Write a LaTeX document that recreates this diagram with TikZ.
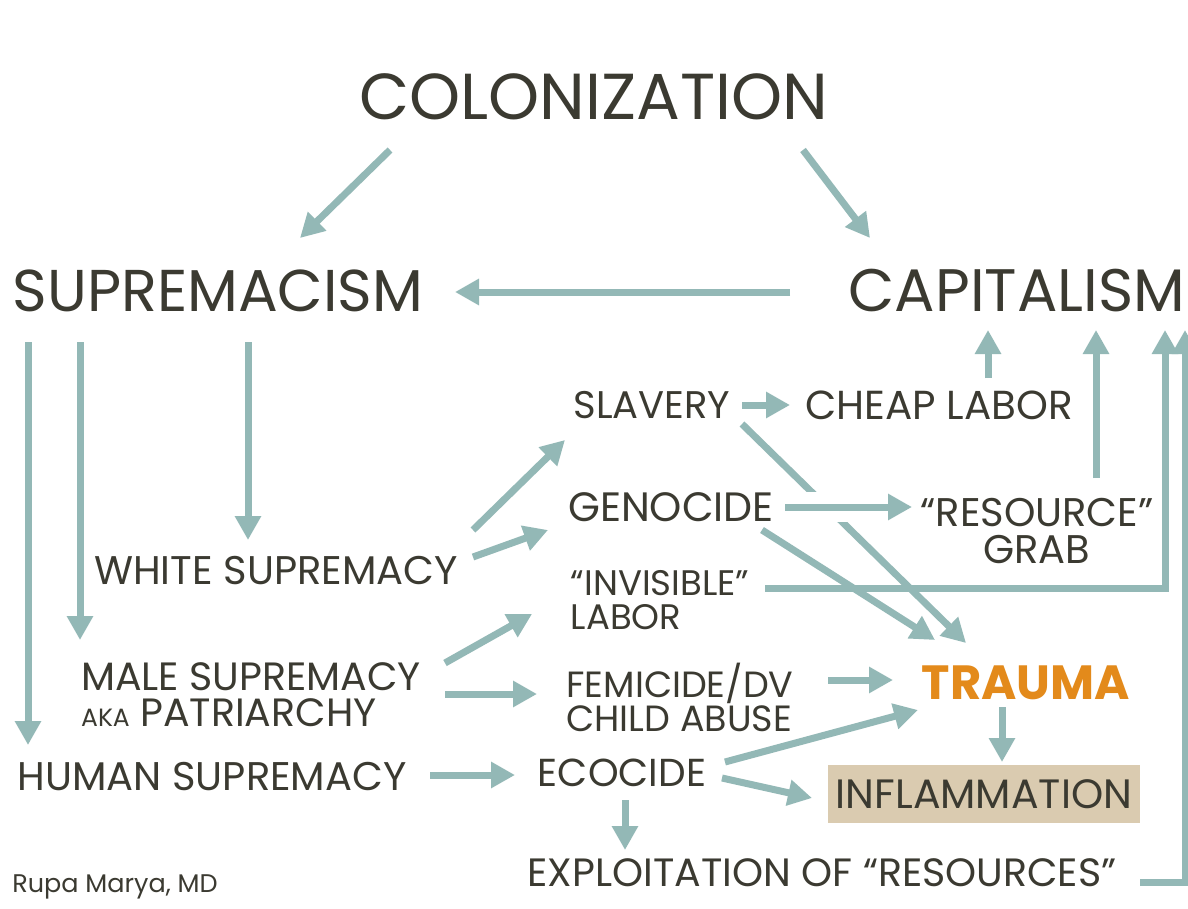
\documentclass[tikz,border=0pt]{standalone}
\usepackage{fontspec}
\setmainfont{Poppins}
\usetikzlibrary{arrows.meta,calc}
\definecolor{arrowc}{HTML}{93B8B6}
\definecolor{textc}{HTML}{3B3A31}
\definecolor{orangec}{HTML}{E38A1B}
\definecolor{tanc}{HTML}{DACBB0}
\tikzset{
  arr/.style={draw=arrowc,line width=7pt,-{Triangle[length=24pt,width=25pt]}},
  lbl/.style={text=textc,inner sep=0pt,font=\fontsize{40}{40}\selectfont},
  big/.style={text=textc,inner sep=0pt,font=\fontsize{59}{60}\selectfont},
}
\begin{document}
\begin{tikzpicture}[x=1pt,y=-1pt]
\useasboundingbox[fill=white] (0,0) rectangle (1188,909);
\node[big,font=\fontsize{65}{66}\selectfont] (colon) at (594,97) {COLONIZATION};
\node[big] (supr) at (218,291) {SUPREMACISM};
\node[big,font=\fontsize{60}{60}\selectfont] (cap) at (1017,291) {CAPITALISM};
\node[lbl] (white) at (276,571) {WHITE SUPREMACY};
\node[lbl,font=\fontsize{38.5}{40}\selectfont] (slav) at (652,405) {SLAVERY};
\node[lbl,font=\fontsize{40.5}{40}\selectfont] (cheap) at (939,405) {CHEAP LABOR};
\node[lbl,font=\fontsize{41}{40}\selectfont] (geno) at (671,507) {GENOCIDE};
\node[lbl,align=center,font=\fontsize{40}{37}\selectfont] (res) at (1037,531) {“RESOURCE”\\GRAB};
\node[lbl,align=left,font=\fontsize{35.5}{34}\selectfont] (invis) at (660,600) {“INVISIBLE”\\LABOR};
\node[lbl,align=left,font=\fontsize{36.5}{34}\selectfont] (fem) at (680,697) {FEMICIDE/DV\\CHILD ABUSE};
\node[lbl,align=left,font=\fontsize{39.5}{36}\selectfont] (male) at (251,695) {MALE SUPREMACY\\{\fontsize{25}{24}\selectfont AKA} PATRIARCHY};
\node[lbl] (human) at (212,777) {HUMAN SUPREMACY};
\node[lbl,font=\fontsize{39}{40}\selectfont] (eco) at (622,773) {ECOCIDE};
\node[inner sep=0pt,text=orangec,font=\fontsize{48}{50}\selectfont\bfseries] (trauma) at (1026,683) {TRAUMA};
\node[lbl,fill=tanc,minimum width=312pt,minimum height=58pt,font=\fontsize{41}{40}\selectfont] (infl) at (984,794) {INFLAMMATION};
\node[lbl,font=\fontsize{39.5}{38}\selectfont] (expl) at (822,873) {EXPLOITATION OF “RESOURCES”};
\node[text=textc,inner sep=0pt,font=\fontsize{25.5}{26}\selectfont] (rupa) at (115,887) {Rupa Marya, MD};
% arrows
\draw[arr] ($(colon)+(-204,53)$) -- ($(supr)+(82,-53)$);
\draw[arr] ($(colon)+(209,53)$) -- ($(cap)+(-147,-53)$);
\draw[arr] ($(cap)+(-227,1)$) -- ($(supr)+(237,1)$);
\draw[arr] ($(supr)+(-190,51)$) -- ($(human)+(-184,-32)$);
\draw[arr] ($(supr)+(-138,51)$) -- ($(male)+(-171,-55)$);
\draw[arr] ($(supr)+(30,51)$) -- ($(white)+(-28,-31)$);
\draw[arr] ($(slav)+(90,0)$) -- ($(cheap)+(-149,0)$);
\draw[arr] ($(cheap)+(49,-27)$) -- ($(cap)+(-29,39)$);
\draw[arr] ($(slav)+(90,19)$) -- ($(trauma)+(-60,-40)$);
\draw[arr,preaction={draw=white,line width=30pt,-}] ($(geno)+(114,0)$) -- ($(res)+(-125,-24)$);
\draw[arr] ($(res)+(59,-53)$) -- ($(cap)+(79,39)$);
\draw[arr] ($(white)+(197,-41)$) -- ($(slav)+(-87,35)$);
\draw[arr] ($(white)+(197,-14)$) -- ($(geno)+(-123,23)$);
\draw[arr] ($(invis)+(105,-12)$) -| ($(cap)+(148,39)$);
\draw[arr] ($(expl)+(318,9)$) -| ($(cap)+(168,39)$);
\draw[arr] ($(geno)+(91,23)$) -- ($(trauma)+(-91,-43)$);
\draw[arr] ($(fem)+(148,-17)$) -- ($(trauma)+(-133,-3)$);
\draw[arr] ($(male)+(194,-32)$) -- ($(invis)+(-128,14)$);
\draw[arr] ($(male)+(194,-1)$) -- ($(fem)+(-143,-3)$);
\draw[arr] ($(human)+(218,-2)$) -- ($(eco)+(-107,2)$);
\draw[arr] ($(eco)+(103,-11)$) -- ($(trauma)+(-108,27)$);
\draw[arr] ($(eco)+(100,5)$) -- ($(infl)+(-172,4)$);
\draw[arr] ($(trauma)+(-24,24)$) -- ($(infl)+(18,-32)$);
\draw[arr] ($(eco)+(3,27)$) -- ($(expl)+(-197,-23)$);
\end{tikzpicture}
\end{document}
